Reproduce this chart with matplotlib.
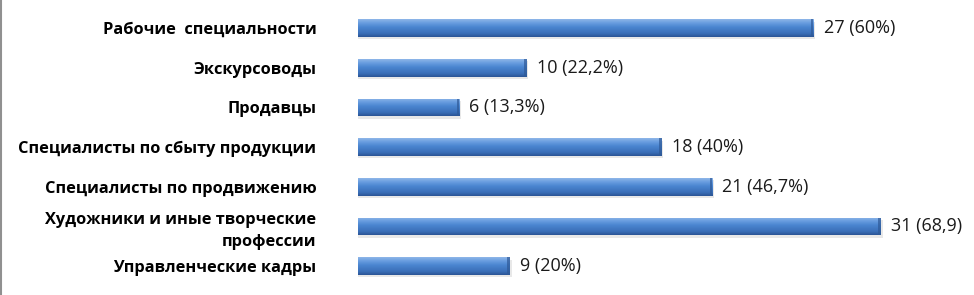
import matplotlib
matplotlib.use("Agg")
import matplotlib.pyplot as plt
import numpy as np
from matplotlib.colors import LinearSegmentedColormap
from matplotlib.lines import Line2D

categories = ["Рабочие  специальности", "Экскурсоводы", "Продавцы",
              "Специалисты по сбыту продукции", "Специалисты по продвижению",
              "Художники и иные творческие\nпрофессии", "Управленческие кадры"]
values = [27, 10, 6, 18, 21, 31, 9]
value_labels = ["27 (60%)", "10 (22,2%)", "6 (13,3%)", "18 (40%)",
                "21 (46,7%)", "31 (68,9)", "9 (20%)"]

fig = plt.figure(figsize=(9.74, 2.95), dpi=100)
ax = fig.add_axes([358/974, 9/295, 616/974, 277.7/295])
n = len(categories)
ypos = np.arange(n)
ax.set_ylim(n - 0.5, -0.5)
ax.set_xlim(0, 616/16.87)

bars = ax.barh(ypos, values, height=0.44, color="#4a85d0", zorder=2)

cmap = LinearSegmentedColormap.from_list("g", [
    (0.0, "#8fb6e8"), (0.2, "#6a9ee0"), (0.45, "#4a85d0"), (0.8, "#3b6fb8"), (1.0, "#2b5596")])
grad = np.linspace(0, 1, 64).reshape(-1, 1)
for b in bars:
    x0, y0, w, h = b.get_x(), b.get_y(), b.get_width(), b.get_height()
    # shadow
    ax.barh(y0 + h/2 + 0.06, w + 0.1, height=h, left=x0, color="#e3e3e3",
            alpha=0.8, zorder=1, linewidth=0)
    im = ax.imshow(grad, extent=(x0, x0 + w, y0 + h, y0), aspect="auto",
                   cmap=cmap, zorder=3, interpolation="bilinear")
    im.set_clip_path(b)
    # darker right end
    ax.barh(y0 + h/2, 0.15, height=h, left=x0 + w - 0.15, color="#2f5a98",
            alpha=0.7, zorder=4, linewidth=0)

for y, v, lab in zip(ypos, values, value_labels):
    ax.text(v + 0.6, y, lab, va="center", ha="left", fontsize=13,
            family=["Open Sans", "DejaVu Sans"], color="#1a1a1a")

ax.set_yticks(ypos)
ax.set_yticklabels(categories, fontsize=11.8, fontweight="bold",
                   family=["Open Sans", "DejaVu Sans"], linespacing=1.45)
ax.tick_params(axis="y", length=0, pad=30)
ax.set_xticks([])
for s in ax.spines.values():
    s.set_visible(False)

fig.add_artist(Line2D([1/974, 1/974], [0, 1], color="#909090", linewidth=1.5,
                      transform=fig.transFigure))

fig.savefig("out.png", dpi=100)
